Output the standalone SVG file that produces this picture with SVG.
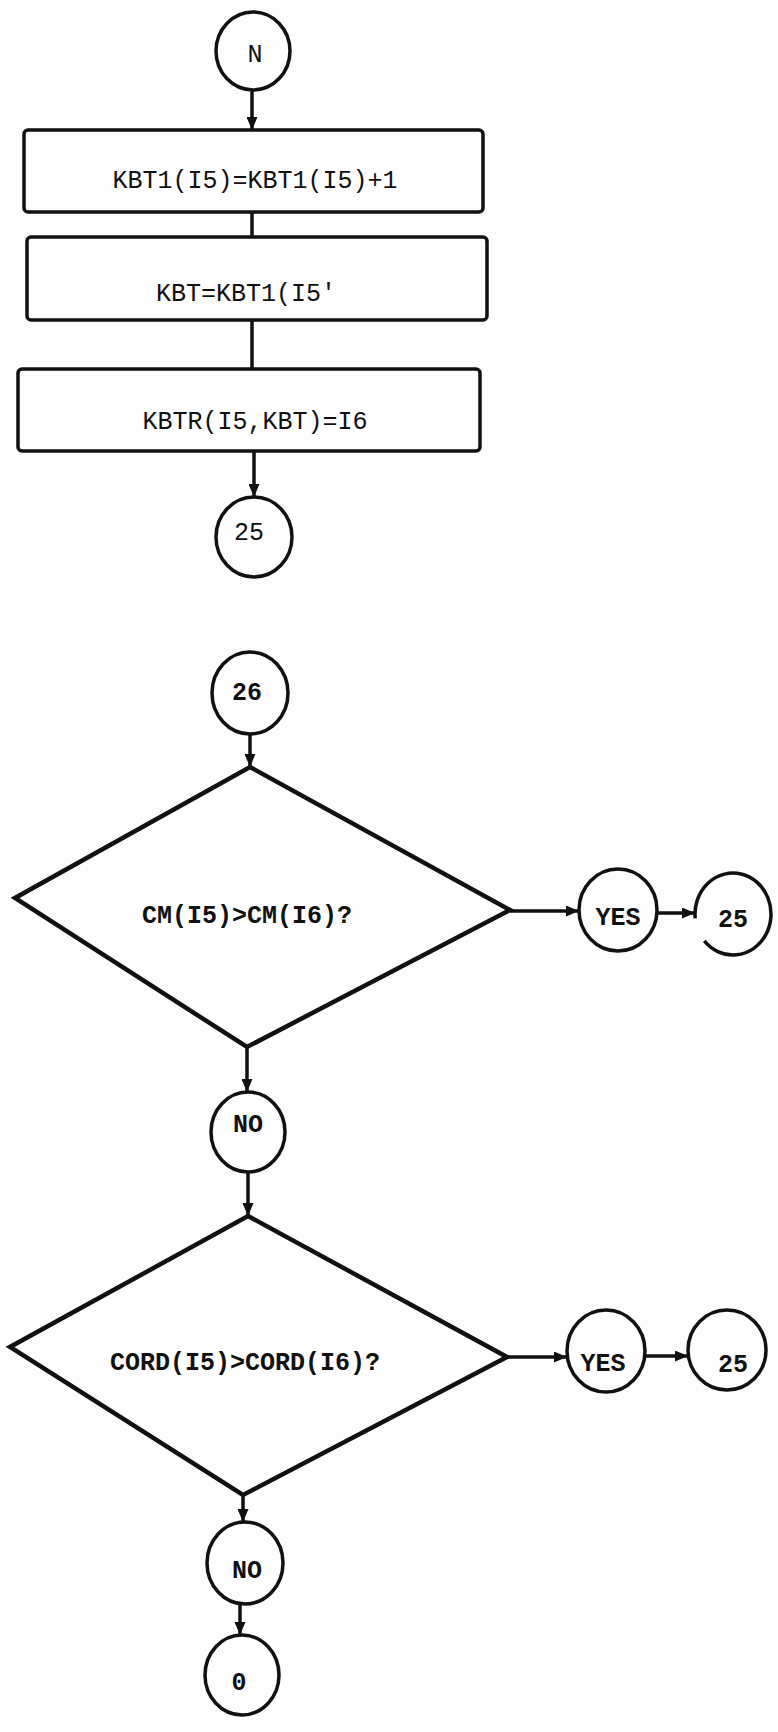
<svg xmlns="http://www.w3.org/2000/svg" width="778" height="1732" viewBox="0 0 778 1732">
<defs>
<style>
.bg{fill:#fdfdfd}
.box{fill:none;stroke:#111;stroke-width:3.5}
.circ{fill:none;stroke:#111;stroke-width:3.5}
.dia{fill:none;stroke:#111;stroke-width:4.5;stroke-linejoin:miter}
.con{fill:none;stroke:#111;stroke-width:3.5}
.t{font-family:"Liberation Mono","DejaVu Sans Mono",monospace;font-size:25px;fill:#111;text-anchor:middle}
.tb{font-family:"Liberation Mono","DejaVu Sans Mono",monospace;font-size:25px;font-weight:bold;fill:#111;text-anchor:middle}
</style>
<marker id="ah" markerUnits="userSpaceOnUse" markerWidth="13" markerHeight="11" refX="13" refY="5.5" orient="auto">
<path d="M0,0 L13,5.5 L0,11 z" fill="#111"/>
</marker>
</defs>
<rect class="bg" x="0" y="0" width="778" height="1732"/>

<g id="connectors">
<line class="con" x1="252" y1="90" x2="252" y2="130" marker-end="url(#ah)"/>
<line class="con" x1="252" y1="212" x2="252" y2="237"/>
<line class="con" x1="252" y1="320" x2="252" y2="369"/>
<line class="con" x1="254" y1="451" x2="254" y2="497" marker-end="url(#ah)"/>
<line class="con" x1="250" y1="734" x2="250" y2="767" marker-end="url(#ah)"/>
<line class="con" x1="510" y1="911" x2="579" y2="911" marker-end="url(#ah)"/>
<line class="con" x1="657" y1="913" x2="695" y2="913" marker-end="url(#ah)"/>
<line class="con" x1="247" y1="1047" x2="247" y2="1092" marker-end="url(#ah)"/>
<line class="con" x1="248" y1="1172" x2="248" y2="1216" marker-end="url(#ah)"/>
<line class="con" x1="507" y1="1357" x2="567" y2="1357" marker-end="url(#ah)"/>
<line class="con" x1="645" y1="1356" x2="688" y2="1356" marker-end="url(#ah)"/>
<line class="con" x1="243" y1="1495" x2="243" y2="1522" marker-end="url(#ah)"/>
<line class="con" x1="240" y1="1605" x2="240" y2="1635" marker-end="url(#ah)"/>
</g>

<g id="nodeN">
<ellipse class="circ" cx="253" cy="51" rx="37" ry="39"/>
<text class="t" x="255" y="62">N</text>
</g>

<g id="box1">
<rect class="box" x="24" y="130" width="459" height="82" rx="4"/>
<text class="t" x="255" y="188">KBT1(I5)=KBT1(I5)+1</text>
</g>

<g id="box2">
<rect class="box" x="27" y="237" width="460" height="83" rx="4"/>
<text class="t" x="246" y="301">KBT=KBT1(I5'</text>
</g>

<g id="box3">
<rect class="box" x="18" y="369" width="462" height="82" rx="4"/>
<text class="t" x="255" y="429">KBTR(I5,KBT)=I6</text>
</g>

<g id="c25a">
<ellipse class="circ" cx="254" cy="537" rx="38" ry="40"/>
<text class="t" x="249" y="540">25</text>
</g>

<g id="c26">
<ellipse class="circ" cx="250" cy="693" rx="38" ry="41"/>
<text class="tb" x="247" y="700">26</text>
</g>

<g id="dec1">
<polygon class="dia" points="250,767 510,910 247,1047 15,898"/>
<text class="tb" x="247" y="923">CM(I5)&gt;CM(I6)?</text>
</g>

<g id="yes1">
<ellipse class="circ" cx="618" cy="910" rx="39" ry="41"/>
<text class="tb" x="618" y="925">YES</text>
</g>

<g id="c25b">
<path class="circ" d="M695.2,918.3 A38,41 0 1 1 704.3,940.9"/>
<text class="tb" x="733" y="927">25</text>
</g>

<g id="no1">
<ellipse class="circ" cx="248" cy="1132" rx="37" ry="40"/>
<text class="tb" x="248" y="1132">NO</text>
</g>

<g id="dec2">
<polygon class="dia" points="248,1216 507,1357 243,1495 10,1347"/>
<text class="tb" x="245" y="1370">CORD(I5)&gt;CORD(I6)?</text>
</g>

<g id="yes2">
<ellipse class="circ" cx="606" cy="1351" rx="39" ry="41"/>
<text class="tb" x="603" y="1371">YES</text>
</g>

<g id="c25c">
<ellipse class="circ" cx="727" cy="1350" rx="39" ry="40"/>
<text class="tb" x="733" y="1372">25</text>
</g>

<g id="no2">
<ellipse class="circ" cx="245" cy="1563" rx="38" ry="41"/>
<text class="tb" x="247" y="1578">NO</text>
</g>

<g id="c0">
<ellipse class="circ" cx="242" cy="1675" rx="37" ry="40"/>
<text class="tb" x="239" y="1690">0</text>
</g>
</svg>
